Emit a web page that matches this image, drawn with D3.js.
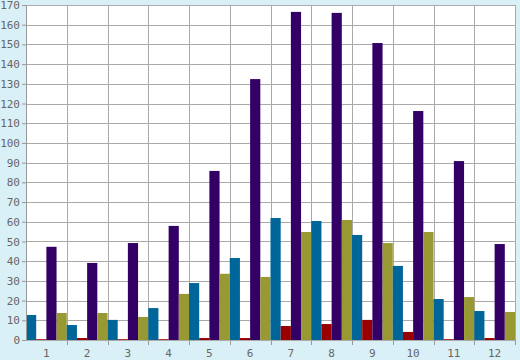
<!DOCTYPE html>
<html><head><meta charset="utf-8">
<script src="https://cdn.jsdelivr.net/npm/d3@7"></script>
<style>html,body{margin:0;padding:0;background:#daf0f7;}svg{display:block;}</style>
</head><body>
<svg id="c" width="520" height="360"></svg>
<script>
const categories = ["1","2","3","4","5","6","7","8","9","10","11","12"];
const seriesNames = ["A","B","C","D"];
const seriesColors = ["#006699","#990000","#330066","#999933"];
const blueVals   = [12.7, 7.6, 10.2, 16.2, 28.9, 41.6, 61.9, 60.4, 53.3, 37.6, 20.8, 14.7];
const redVals    = [0.4, 1.0, 0.4, 0.4, 1.0, 1.0, 7.1, 8.1, 10.2, 4.1, 0.4, 1.0];
const purpleVals = [47.3, 39.1, 49.2, 57.9, 85.8, 132.4, 166.5, 166.0, 150.7, 116.2, 90.8, 48.7];
const oliveVals  = [13.7, 13.7, 11.7, 23.4, 33.6, 32.0, 54.8, 60.9, 49.2, 54.8, 21.8, 14.2];
const yTicks = d3.range(0, 171, 10);

const series = [blueVals, redVals, purpleVals, oliveVals];
const svg = d3.select("#c");
const L = 26, R = 515, T = 5, B = 340;
const x0 = d3.scaleBand().domain(categories).range([L, R]).padding(0);
const x1 = d3.scaleBand().domain(seriesNames).range([0, x0.bandwidth()]).padding(0);
const y = d3.scaleLinear().domain([0, 170]).range([B, T]);

svg.append("rect").attr("x", L).attr("y", T).attr("width", R - L).attr("height", B - T).attr("fill", "#fff");

// grid
svg.append("g").selectAll("line").data(yTicks).join("line")
  .attr("x1", L).attr("x2", R).attr("y1", d => Math.round(y(d)) + 0.5).attr("y2", d => Math.round(y(d)) + 0.5)
  .attr("stroke", "#aaa");
const vlines = categories.map(c => x0(c) + x0.bandwidth());
svg.append("g").selectAll("line").data(vlines).join("line")
  .attr("x1", d => Math.round(d) + 0.5).attr("x2", d => Math.round(d) + 0.5).attr("y1", T).attr("y2", B)
  .attr("stroke", "#aaa");
svg.append("line").attr("x1", L).attr("x2", R).attr("y1", T + 0.5).attr("y2", T + 0.5).attr("stroke", "#aaa");
svg.append("line").attr("x1", L + 0.5).attr("x2", L + 0.5).attr("y1", T).attr("y2", B).attr("stroke", "#aaa");

// bars
const g = svg.append("g");
categories.forEach((c, i) => {
  seriesNames.forEach((s, j) => {
    const v = series[j][i];
    g.append("rect")
      .attr("x", x0(c) + x1(s))
      .attr("width", x1.bandwidth())
      .attr("y", y(v))
      .attr("height", B - y(v))
      .attr("fill", seriesColors[j]);
  });
});

// y axis
const yAxis = d3.axisLeft(y).tickValues(yTicks).tickSize(4).tickPadding(2).tickFormat(d3.format("d"));
const ya = svg.append("g").attr("transform", `translate(${L},0)`).call(yAxis);
ya.select(".domain").attr("stroke", "#999");
ya.selectAll(".tick line").attr("stroke", "#999");
ya.selectAll("text").attr("fill", "#666").style("font-family", "DejaVu Sans Mono").style("font-size", "11px");

// x axis
const xAxis = d3.axisBottom(x0).tickSize(0).tickPadding(9);
const xa = svg.append("g").attr("transform", `translate(0,${B})`).call(xAxis);
xa.select(".domain").remove();
xa.selectAll("text").attr("fill", "#666").style("font-family", "DejaVu Sans Mono").style("font-size", "11px");
svg.append("g").selectAll("line").data(vlines).join("line")
  .attr("x1", d => Math.round(d) + 0.5).attr("x2", d => Math.round(d) + 0.5).attr("y1", B).attr("y2", B + 5)
  .attr("stroke", "#999");
svg.append("line").attr("x1", L).attr("x2", R).attr("y1", B + 0.5).attr("y2", B + 0.5).attr("stroke", "#aaa");
</script>
</body></html>
